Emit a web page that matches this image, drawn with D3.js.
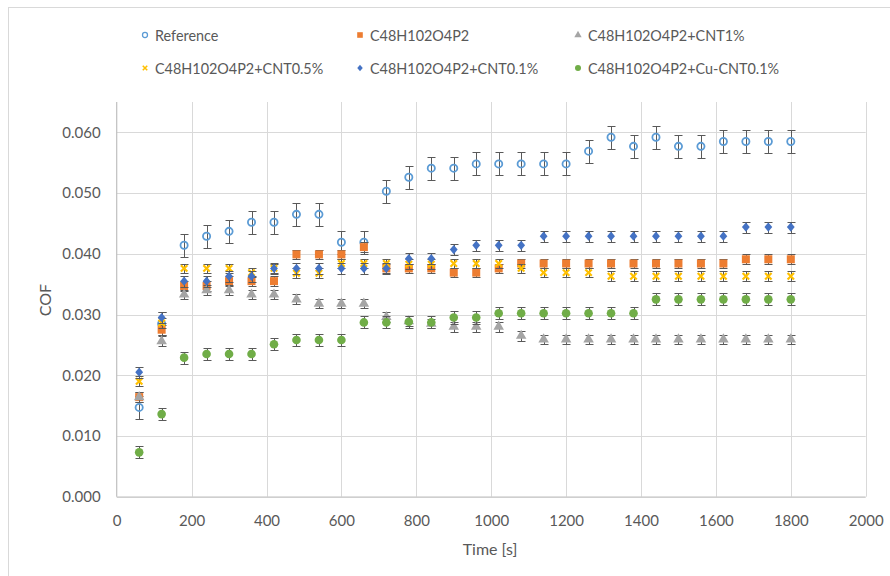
<!DOCTYPE html>
<html>
<head>
<meta charset="utf-8">
<script src="https://cdn.jsdelivr.net/npm/d3@7"></script>
<style>
  body { margin: 0; background: #fff; }
  svg { display: block; }
  text { font-family: Lato, "Open Sans", sans-serif; fill: #595959; }
</style>
</head>
<body>
<svg id="chart" width="890" height="576"></svg>
<script>
// ---- data ----
const time = [60,120,180,240,300,360,420,480,540,600,660,720,780,840,900,960,1020,1080,1140,1200,1260,1320,1380,1440,1500,1560,1620,1680,1740,1800];
const seriesNames = ["Reference","C48H102O4P2","C48H102O4P2+CNT1%","C48H102O4P2+CNT0.5%","C48H102O4P2+CNT0.1%","C48H102O4P2+Cu-CNT0.1%"];
const reference = [0.0147,0.0285,0.0414,0.0429,0.0437,0.0452,0.0452,0.0465,0.0465,0.0419,0.0419,0.0503,0.0526,0.0541,0.0541,0.0548,0.0548,0.0548,0.0548,0.0548,0.0569,0.0592,0.0577,0.0592,0.0577,0.0577,0.0585,0.0585,0.0585,0.0585];
const base = [0.0164,0.0275,0.0347,0.0347,0.0355,0.0355,0.0355,0.0399,0.0399,0.0399,0.0411,0.0376,0.0376,0.0376,0.0369,0.0369,0.0376,0.0384,0.0384,0.0384,0.0384,0.0384,0.0384,0.0384,0.0384,0.0384,0.0384,0.0391,0.0391,0.0391];
const cnt1 = [0.0164,0.0256,0.0333,0.0340,0.0340,0.0333,0.0333,0.0325,0.0318,0.0318,0.0318,0.0296,0.0289,0.0285,0.0280,0.0280,0.0280,0.0265,0.0259,0.0259,0.0259,0.0259,0.0259,0.0259,0.0259,0.0259,0.0259,0.0259,0.0259,0.0259];
const cnt05 = [0.0190,0.0286,0.0376,0.0376,0.0376,0.0369,0.0376,0.0368,0.0368,0.0384,0.0384,0.0384,0.0383,0.0383,0.0384,0.0384,0.0384,0.0376,0.0369,0.0369,0.0369,0.0363,0.0363,0.0363,0.0363,0.0363,0.0363,0.0363,0.0363,0.0363];
const cnt01 = [0.0205,0.0295,0.0355,0.0355,0.0363,0.0363,0.0376,0.0376,0.0376,0.0376,0.0376,0.0376,0.0392,0.0392,0.0407,0.0414,0.0414,0.0414,0.0429,0.0429,0.0429,0.0429,0.0429,0.0429,0.0429,0.0429,0.0429,0.0444,0.0444,0.0444];
const cuCnt01 = [0.0073,0.0136,0.0229,0.0235,0.0235,0.0235,0.0251,0.0258,0.0258,0.0258,0.0287,0.0287,0.0288,0.0287,0.0295,0.0295,0.0302,0.0302,0.0302,0.0302,0.0302,0.0302,0.0302,0.0325,0.0325,0.0325,0.0325,0.0325,0.0325,0.0325];
const errors = [0.0019,0.0008,0.0008,0.0008,0.0009,0.0010];
const xTicks = [0,200,400,600,800,1000,1200,1400,1600,1800,2000];
const yTicks = [0,0.01,0.02,0.03,0.04,0.05,0.06];

const seriesValues = [reference, base, cnt1, cnt05, cnt01, cuCnt01];
const colors = ["#5B9BD5","#ED7D31","#A5A5A5","#FFC000","#4472C4","#70AD47"];
const shapes = ["ring","square","triangle","cross","diamond","circle"];

const svg = d3.select("#chart");
const x = d3.scaleLinear().domain([0,2000]).range([116.7,865.7]);
const y = d3.scaleLinear().domain([0,0.065]).range([496.7,102]);

// chart border
svg.append("rect").attr("x",8.5).attr("y",7.5).attr("width",900).attr("height",600)
  .attr("fill","none").attr("stroke","#d9d9d9").attr("stroke-width",1);

// gridlines
svg.append("g").selectAll("line").data(yTicks.filter(d=>d>0)).join("line")
  .attr("x1",x(0)).attr("x2",x(2000)).attr("y1",d=>Math.round(y(d))+0.5).attr("y2",d=>Math.round(y(d))+0.5)
  .attr("stroke","#d9d9d9").attr("stroke-width",1);
svg.append("g").selectAll("line").data(xTicks.filter(d=>d>0)).join("line")
  .attr("x1",d=>Math.round(x(d))+0.5).attr("x2",d=>Math.round(x(d))+0.5).attr("y1",y(0.065)).attr("y2",y(0))
  .attr("stroke","#d9d9d9").attr("stroke-width",1);

// axes
const xAxis = d3.axisBottom(x).tickValues(xTicks).tickSize(0).tickPadding(19).tickFormat(d3.format("d"));
const gx = svg.append("g").attr("transform",`translate(0,${y(0)})`).call(xAxis);
const yAxis = d3.axisLeft(y).tickValues(yTicks).tickSize(0).tickPadding(16).tickFormat(d3.format(".3f"));
const gy = svg.append("g").attr("transform",`translate(${x(0)},0)`).call(yAxis);
[gx,gy].forEach(g=>{
  g.select(".domain").attr("stroke","#bfbfbf").attr("stroke-width",1.2);
  g.selectAll("text").attr("font-family","Lato, sans-serif").attr("font-size",15).attr("fill","#595959");
});
gx.select(".domain").attr("d",`M${x(0)},0.5H${x(2000)}`);
gy.select(".domain").attr("d",`M0,${y(0.065)}V${y(0)}`);

// axis titles
svg.append("text").attr("x",490).attr("y",555).attr("text-anchor","middle").attr("font-size",16).text("Time [s]");
svg.append("text").attr("transform","translate(51,300) rotate(-90)").attr("text-anchor","middle").attr("font-size",16).text("COF");

// marker drawing
function drawMarker(g, shape, color, s) {
  if (shape==="ring") {
    g.append("circle").attr("r",3.6*s).attr("fill","none").attr("stroke",color).attr("stroke-width",1.8*s);
  } else if (shape==="square") {
    g.append("rect").attr("x",-4*s).attr("y",-4*s).attr("width",8*s).attr("height",8*s).attr("fill",color);
  } else if (shape==="triangle") {
    g.append("path").attr("d",d3.symbol(d3.symbolTriangle, 48*s*s)()).attr("fill",color);
  } else if (shape==="cross") {
    const r=3.2*s;
    g.append("path").attr("d",`M${-r},${-r}L${r},${r}M${-r},${r}L${r},${-r}`).attr("stroke",color).attr("stroke-width",2.2*s);
  } else if (shape==="diamond") {
    const r=4.6*s;
    g.append("path").attr("d",`M0,${-r}L${r*0.85},0L0,${r}L${-r*0.85},0Z`).attr("fill",color);
  } else if (shape==="circle") {
    g.append("circle").attr("r",4.3*s).attr("fill",color);
  }
}

// series
seriesValues.forEach((vals, si) => {
  const data = time.map((t,i)=>({t, v: vals[i], e: errors[si]}));
  const g = svg.append("g");
  const eb = g.append("g").attr("stroke","#595959").attr("stroke-width",1).attr("fill","none");
  eb.selectAll("path").data(data).join("path")
    .attr("d", d => {
      const cx = Math.round(x(d.t))+0.5, y1 = Math.round(y(d.v+d.e))+0.5, y2 = Math.round(y(d.v-d.e))+0.5;
      return `M${cx},${y1}V${y2}M${cx-4},${y1}H${cx+4}M${cx-4},${y2}H${cx+4}`;
    });
  g.selectAll("g.pt").data(data).join("g").attr("class","pt")
    .attr("transform", d=>`translate(${x(d.t)},${y(d.v)})`)
    .each(function(){ drawMarker(d3.select(this), shapes[si], colors[si], 1); });
});

// legend
const legX = [145,360,578], legY = [35,68];
seriesNames.forEach((name, i) => {
  const col = i%3, row = Math.floor(i/3);
  const lg = svg.append("g").attr("transform",`translate(${legX[col]},${legY[row]})`);
  drawMarker(lg, shapes[i], colors[i], 0.7);
  lg.append("text").attr("x",10).attr("y",5.5).attr("font-size",14.4).text(name);
});
</script>
</body>
</html>
